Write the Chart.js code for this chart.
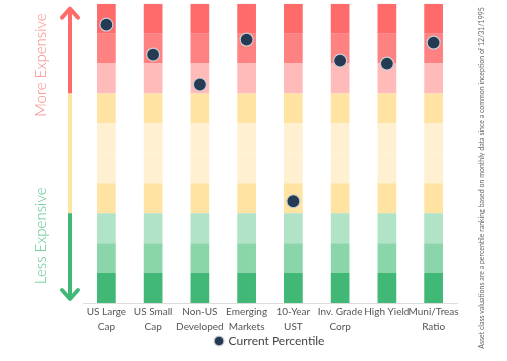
<!DOCTYPE html>
<html>
<head>
<meta charset="utf-8">
<script src="https://cdn.jsdelivr.net/npm/chart.js@4.4.1/dist/chart.umd.min.js"></script>
<style>
  html, body { margin: 0; padding: 0; background: #fff; overflow: hidden; }
  #wrap { width: 507px; height: 365px; position: relative; top: -4px; }
</style>
</head>
<body>
<div id="wrap"><canvas id="valChart"></canvas></div>
<script>
// asset classes along the bottom
const categories = [
    ['US Large', 'Cap'], ['US Small', 'Cap'], ['Non-US', 'Developed'], ['Emerging', 'Markets'],
    ['10-Year', 'UST'], ['Inv. Grade', 'Corp'], ['High Yield'], ['Muni/Treas', 'Ratio']
];
// current percentile per asset class
const currentPercentile = [93, 83, 73, 88, 34, 81, 80, 87];
// decile bands, bottom to top
const bandSize = [10, 10, 10, 10, 10, 10, 10, 10, 10, 10];
const bandColors = [
    '#41b876', '#8ad6aa', '#b1e3c7', '#ffe3a3', '#fff0d2',
    '#fff0d2', '#ffe3a3', '#ffbaba', '#ff8282', '#ff6b6b'
];
const footnote = 'Asset class valuations are a percentile ranking based on monthly data since a common inception of 12/31/1995';

const FONT = 'Lato, "Open Sans", sans-serif';

const bandSets = bandSize.map((size, i) => ({
    type: 'bar',
    label: 'band' + i,
    data: categories.map(() => size),
    backgroundColor: bandColors[i],
    borderWidth: 0,
    stack: 'bands',
    barPercentage: 0.4,
    categoryPercentage: 1,
    order: 2
}));

// arrows + side labels
const sideDecor = {
    id: 'sideDecor',
    afterDraw(chart) {
        const ctx = chart.ctx;
        const y = chart.scales.y;
        const ax = 70;
        const top = y.getPixelForValue(100) + 5;
        const bot = y.getPixelForValue(0) - 4;
        const y70 = y.getPixelForValue(70);
        const y30 = y.getPixelForValue(30);
        ctx.save();
        ctx.lineWidth = 4;
        ctx.lineCap = 'butt';
        const seg = (a, b, c) => {
            ctx.strokeStyle = c;
            ctx.beginPath(); ctx.moveTo(ax, a); ctx.lineTo(ax, b); ctx.stroke();
        };
        seg(top + 2, y70, '#ff6b6b');
        seg(y70, y30, '#ffe3a3');
        seg(y30, bot - 2, '#41b876');
        ctx.lineCap = 'round';
        ctx.lineJoin = 'round';
        ctx.strokeStyle = '#ff6b6b';
        ctx.beginPath(); ctx.moveTo(ax - 8, top + 9); ctx.lineTo(ax, top); ctx.lineTo(ax + 8, top + 9); ctx.stroke();
        ctx.strokeStyle = '#41b876';
        ctx.beginPath(); ctx.moveTo(ax - 8, bot - 9); ctx.lineTo(ax, bot); ctx.lineTo(ax + 8, bot - 9); ctx.stroke();

        ctx.font = '300 15px ' + FONT;
        ctx.textAlign = 'center';
        ctx.textBaseline = 'middle';
        ctx.fillStyle = '#f98585';
        ctx.translate(41, y.getPixelForValue(79.5));
        ctx.rotate(-Math.PI / 2);
        ctx.fillText('More Expensive', 0, 0);
        ctx.restore();

        ctx.save();
        ctx.font = '300 15px ' + FONT;
        ctx.textAlign = 'center';
        ctx.textBaseline = 'middle';
        ctx.fillStyle = '#5cc48a';
        ctx.translate(41, y.getPixelForValue(22.5));
        ctx.rotate(-Math.PI / 2);
        ctx.fillText('Less Expensive', 0, 0);
        ctx.restore();

        ctx.save();
        ctx.font = '7px ' + FONT;
        ctx.textAlign = 'center';
        ctx.textBaseline = 'middle';
        ctx.fillStyle = '#666';
        ctx.translate(482, 182);
        ctx.rotate(-Math.PI / 2);
        ctx.fillText(footnote, 0, 0);
        ctx.restore();
    }
};

const ctx = document.getElementById('valChart').getContext('2d');
const valChart = new Chart(ctx, {
    data: {
        labels: categories,
        datasets: [
            {
                type: 'line',
                label: 'Current Percentile',
                data: currentPercentile,
                showLine: false,
                stack: 'dots',
                pointRadius: 6.5,
                pointHoverRadius: 6.5,
                pointBackgroundColor: '#243b53',
                pointBorderColor: '#c9ced3',
                pointBorderWidth: 1.2,
                backgroundColor: '#243b53',
                borderColor: '#243b53',
                order: 0
            },
            ...bandSets
        ]
    },
    options: {
        responsive: true,
        maintainAspectRatio: false,
        animation: false,
        layout: { padding: { left: 83, right: 50, top: 1, bottom: 4 } },
        scales: {
            x: {
                stacked: true,
                grid: { display: false, drawTicks: false, tickLength: 0 },
                border: { display: true, color: '#dddddd', width: 1 },
                ticks: { color: '#555', font: { family: FONT, size: 10, lineHeight: 1.5 }, maxRotation: 0, autoSkip: false, padding: 1 }
            },
            y: {
                stacked: true,
                min: 0,
                max: 100,
                display: false
            }
        },
        plugins: {
            legend: {
                position: 'bottom',
                labels: {
                    filter: item => item.text === 'Current Percentile',
                    usePointStyle: true,
                    pointStyle: 'circle',
                    boxWidth: 7,
                    boxHeight: 7,
                    color: '#444',
                    padding: 0,
                    font: { family: FONT, size: 12 }
                }
            },
            tooltip: { enabled: false }
        }
    },
    plugins: [sideDecor]
});
</script>
</body>
</html>
